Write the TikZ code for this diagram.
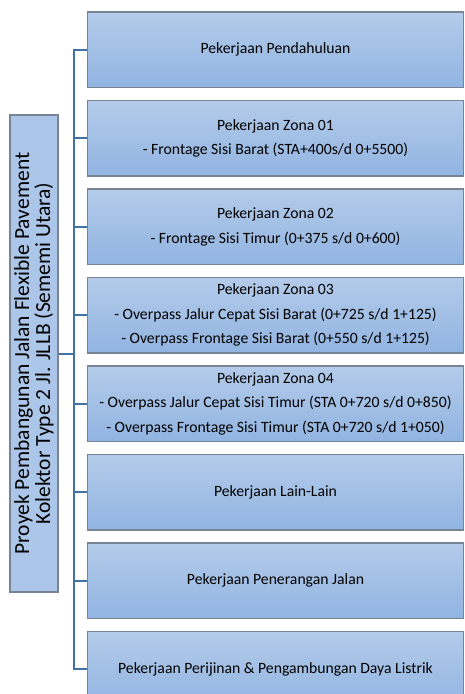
\documentclass[tikz,border=0pt]{standalone}
\usepackage{fontspec}
\setmainfont{Carlito}
\usetikzlibrary{positioning}
\definecolor{boxtop}{RGB}{180,203,234}
\definecolor{boxbot}{RGB}{145,180,225}
\definecolor{boxline}{RGB}{118,132,150}
\definecolor{rootfill}{RGB}{172,198,233}
\definecolor{linkblue}{RGB}{64,113,162}
\newcommand{\tasktext}{\fontsize{15.7}{24.5}\selectfont}

\begin{document}
\begin{tikzpicture}[x=1pt,y=1pt,
    task/.style={draw=boxline, line width=1.4pt, top color=boxtop, bottom color=boxbot,
      minimum width=376pt, minimum height=75.5pt, align=center, font=\tasktext, inner sep=2pt},
    root/.style={draw=boxline, line width=1.4pt, fill=rootfill, rotate=90,
      minimum width=477pt, minimum height=48pt, align=center,
      font=\fontsize{21.5}{21}\selectfont, inner sep=1pt},
    link/.style={draw=linkblue, line width=2pt}]
    \useasboundingbox (0,0) rectangle (464,-694);
    % root of the breakdown
    \node[root] (proyek) at (34,-353.5)
      {Proyek Pembangunan Jalan Flexible Pavement\\ Kolektor Type 2 Jl. JLLB (Sememi Utara)};
    % work packages
    \node[task] (pendahuluan) at (275.5,-49.75) {Pekerjaan Pendahuluan};
    \node[task, below=11.6pt of pendahuluan] (zona1)
      {Pekerjaan Zona 01\\ - Frontage Sisi Barat (STA+400s/d 0+5500)};
    \node[task, below=11.6pt of zona1] (zona2)
      {Pekerjaan Zona 02\\ - Frontage Sisi Timur (0+375 s/d 0+600)};
    \node[task, below=11.6pt of zona2] (zona3)
      {Pekerjaan Zona 03\\ - Overpass Jalur Cepat Sisi Barat (0+725 s/d 1+125)\\
       - Overpass Frontage Sisi Barat (0+550 s/d 1+125)};
    \node[task, below=11.6pt of zona3] (zona4)
      {Pekerjaan Zona 04\\ - Overpass Jalur Cepat Sisi Timur (STA 0+720 s/d 0+850)\\
       - Overpass Frontage Sisi Timur (STA 0+720 s/d 1+050)};
    \node[task, below=11.6pt of zona4] (lainlain) {Pekerjaan Lain-Lain};
    \node[task, below=11.6pt of lainlain] (penerangan) {Pekerjaan Penerangan Jalan};
    \node[task, below=11.6pt of penerangan] (perijinan)
      {Pekerjaan Perijinan \& Pengambungan Daya Listrik};
    % connectors
    \coordinate (trunk) at ([xshift=15pt]proyek.south);
    \draw[link] (proyek.south) -- (trunk);
    \draw[link] (trunk) |- (pendahuluan.west);
    \draw[link] (trunk) |- (zona1.west);
    \draw[link] (trunk) |- (zona2.west);
    \draw[link] (trunk) |- (zona3.west);
    \draw[link] (trunk) |- (zona4.west);
    \draw[link] (trunk) |- (lainlain.west);
    \draw[link] (trunk) |- (penerangan.west);
    \draw[link] (trunk) |- (perijinan.west);
\end{tikzpicture}
\end{document}
